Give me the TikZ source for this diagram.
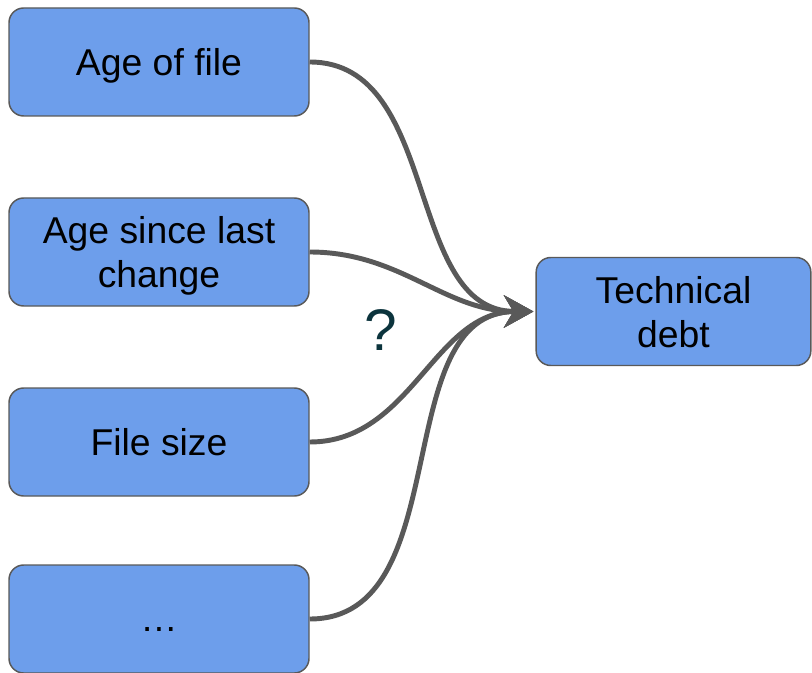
\documentclass[tikz,border=0pt]{standalone}
\usepackage{fontspec}
\setmainfont{Liberation Sans}
\usetikzlibrary{arrows.meta}
\definecolor{boxfill}{HTML}{6D9EEB}
\definecolor{boxline}{HTML}{595959}
\definecolor{qmark}{HTML}{0C343D}
\begin{document}
\begin{tikzpicture}[x=0.75pt,y=-0.75pt,
  box/.style={draw=boxline,fill=boxfill,line width=1.1pt,rounded corners=11pt,
    minimum width=225pt,minimum height=81pt,inner sep=0pt,align=center,
    text depth=0pt,font=\fontsize{28}{33}\selectfont},
  link/.style={draw=boxline,line width=3.7pt,shorten >=1.5pt,
    -{Stealth[length=22pt,width=24pt,inset=7pt]}}]
\useasboundingbox (0,0) rectangle (812,673);
\node[box] (age) at (159,62) {Age of file};
\node[box] (last) at (159,252) {Age since last\\change};
\node[box] (size) at (159,442) {File size};
\node[box] (more) at (159,619) {\vphantom{A}…};
\node[box,minimum width=206pt] (debt) at (673.5,311.5) {Technical\\debt};
\node[text=qmark,font=\fontsize{44}{48}\selectfont] (q) at (381,330) {?};
\foreach \src in {age,last,size,more}
  \draw[link] (\src.east) to[out=0,in=180] (debt.west);
\end{tikzpicture}
\end{document}
